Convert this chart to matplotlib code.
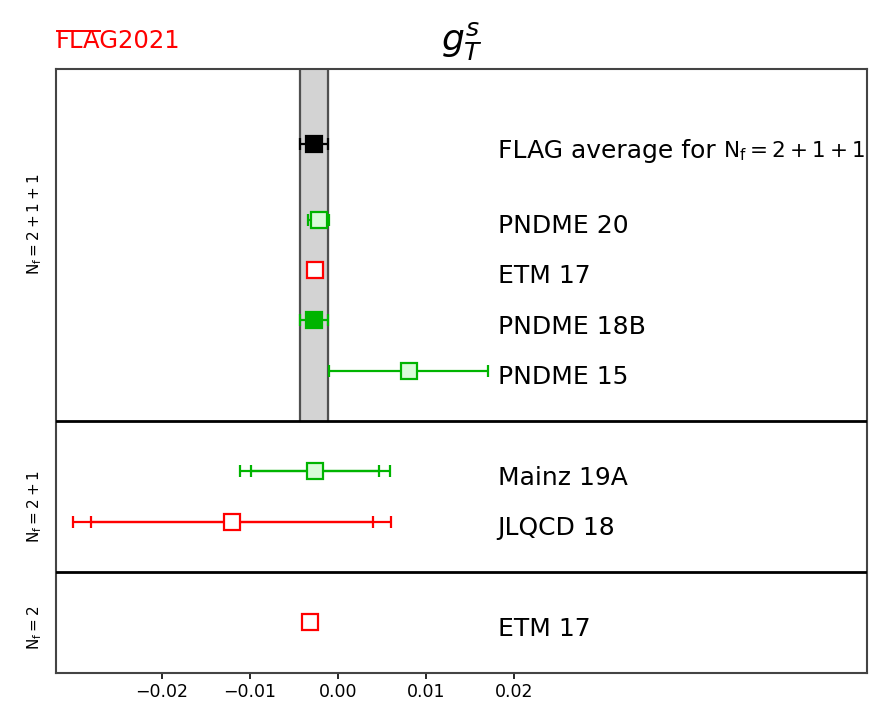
import matplotlib
matplotlib.use("Agg")
import matplotlib.pyplot as plt
from matplotlib.lines import Line2D
from matplotlib.font_manager import FontProperties

plt.rcParams["mathtext.fontset"] = "dejavusans"

# Results for the flavour-singlet strange tensor charge, grouped by N_f
labels = [
    "FLAG average for ",
    "PNDME 20", "ETM 17", "PNDME 18B", "PNDME 15",
    "Mainz 19A", "JLQCD 18",
    "ETM 17",
]
avg_suffix = r"$\mathrm{N_f=2+1+1}$"
values = [-0.0027, -0.0022, -0.0026, -0.0027, 0.0080, -0.0026, -0.0120, -0.0032]
stat_err = [0.0016, 0.0012, 0.0006, 0.0016, 0.0090, 0.0073, 0.0160, 0.0007]
total_err = [0.0016, 0.0012, 0.0006, 0.0016, 0.0090, 0.0085, 0.0180, 0.0007]
kinds = ["avg", "light", "red", "green", "light", "light", "red", "red"]
groups = ["2+1+1", "2+1+1", "2+1+1", "2+1+1", "2+1+1", "2+1", "2+1", "2"]
group_names = ["2+1+1", "2+1", "2"]
x_ticks = [-0.02, -0.01, 0.00, 0.01, 0.02]

GREEN = "#00b400"
styles = {
    "avg":   dict(mfc="black", mec="black", ec="black"),
    "green": dict(mfc=GREEN, mec=GREEN, ec=GREEN),
    "light": dict(mfc="#d9fbd9", mec=GREEN, ec=GREEN),
    "red":   dict(mfc="white", mec="#ff0000", ec="#ff0000"),
}

# vertical layout: one unit per entry, extra room around the average;
# each section ends one unit above its last entry
ypos = [None] * len(labels)
bounds = {}
lo = 0.0
for g in reversed(group_names):
    idx = [i for i, gg in enumerate(groups) if gg == g]
    y = lo
    for i in reversed(idx):
        y += 1.5 if kinds[i] == "avg" else 1.0
        ypos[i] = y
    hi = y + (1.5 if kinds[idx[0]] == "avg" else 1.0)
    bounds[g] = (lo, hi)
    lo = hi

fig = plt.figure(figsize=(8.72, 7.13), dpi=100)
ax = fig.add_axes([0.0639, 0.0568, 0.9307, 0.8471])
xmin, xmax = -0.032, 0.060
ax.set_xlim(xmin, xmax)
ax.set_ylim(0, bounds["2+1+1"][1])

# FLAG average band over the 2+1+1 section
ia = kinds.index("avg")
b_lo, b_hi = bounds["2+1+1"]
ax.fill_betweenx([b_lo, b_hi], values[ia] - total_err[ia], values[ia] + total_err[ia],
                 color="#d3d3d3", zorder=1)
for xe in (values[ia] - total_err[ia], values[ia] + total_err[ia]):
    ax.plot([xe, xe], [b_lo, b_hi], color="#505050", lw=1.6, zorder=2)

# section separators
for g in group_names[1:]:
    ax.axhline(bounds[g][1], color="black", lw=2.0, zorder=3)

LABEL_X = 0.0181
LABEL_FS = 18
BASE_OFF = 0.27
name_texts = []
for i in range(len(labels)):
    st = styles[kinds[i]]
    if total_err[i] > stat_err[i]:
        ax.errorbar(values[i], ypos[i], xerr=total_err[i], fmt="none",
                    ecolor=st["ec"], elinewidth=1.6, capsize=4.5, capthick=1.6, zorder=4)
    ax.errorbar(values[i], ypos[i], xerr=stat_err[i], fmt="none",
                ecolor=st["ec"], elinewidth=1.6, capsize=4.5, capthick=1.6, zorder=4)
    ax.plot(values[i], ypos[i], marker="s", ms=11.5, mew=1.6, mfc=st["mfc"],
            mec=st["mec"], ls="none", zorder=5)
    t = ax.text(LABEL_X, ypos[i] - BASE_OFF, labels[i], fontsize=LABEL_FS, va="baseline",
                ha="left", zorder=6)
    name_texts.append(t)

# N_f labels on the left
label_y = {"2+1+1": 8.9, "2+1": 3.3, "2": 0.9}
for g in group_names:
    ax.text(-0.0344, label_y[g], r"$\mathrm{N_f=" + g + "}$", rotation=90,
            fontsize=11, ha="center", va="center")

ax.set_xticks(x_ticks)
ax.set_xticklabels([f"{t:.2f}".replace("-", "\u2212") for t in x_ticks], fontsize=12.5)
ax.tick_params(axis="x", direction="out", length=4, width=1.2)
ax.set_yticks([])
for s in ax.spines.values():
    s.set_color("#444444")
    s.set_linewidth(1.5)

ax.set_title(r"$g_T^s$", fontsize=26, pad=13)

# FLAG logo: red text with a bar running from the top of the F over "LA"
logo_fs = 17.5
logo_y = 0.9327
logo = fig.text(0.064, logo_y, "FLAG2021", color="#ff0000", fontsize=logo_fs,
                ha="left", va="baseline")

fig.canvas.draw()
renderer = fig.canvas.get_renderer()

# N_f part of the average's label, set a little smaller right after its text
bb = name_texts[ia].get_window_extent(renderer)
x_end = ax.transData.inverted().transform((bb.x1, 0))[0]
ax.text(x_end, ypos[ia] - BASE_OFF, avg_suffix, fontsize=15.5, va="baseline", ha="left",
        zorder=6)

prop = FontProperties(size=logo_fs)
w_fla, _, _ = renderer.get_text_width_height_descent("FLA", prop, ismath=False)
lb = logo.get_window_extent(renderer)
y_base = fig.transFigure.transform((0, logo_y))[1]
cap = 0.729 * logo_fs * fig.dpi / 72.0
fig.add_artist(Line2D([lb.x0 + 1.5, lb.x0 + w_fla], [y_base + cap - 0.5] * 2,
                      color="#ff0000", lw=1.4, transform=None))

fig.savefig("out.png", dpi=100)
